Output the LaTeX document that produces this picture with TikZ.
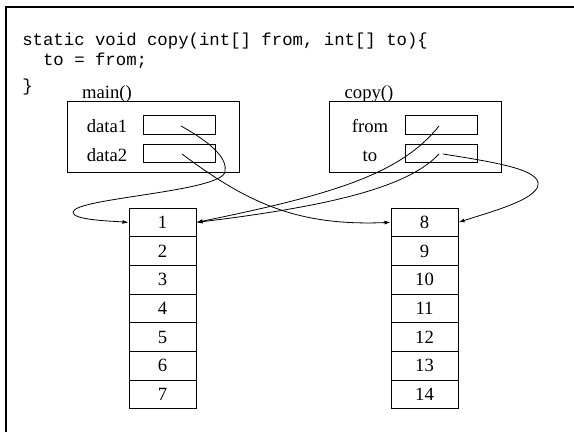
\documentclass[tikz,border=0pt]{standalone}
\usepackage{fontspec}
\setmainfont{Liberation Serif}
\setmonofont{Liberation Mono}
\usetikzlibrary{arrows.meta}

\tikzset{
  stackframe/.style={draw, line width=0.75pt, minimum width=129pt, minimum height=53.25pt, inner sep=0pt},
  slot/.style={draw, line width=0.75pt, minimum width=54pt, minimum height=13.9pt, inner sep=0pt},
  arrcell/.style={draw, line width=0.75pt, minimum width=50.25pt, minimum height=21.5pt, inner sep=0pt, font=\fontsize{14}{16}\selectfont},
  lbl/.style={anchor=base, inner sep=0pt, font=\fontsize{14}{16}\selectfont},
  code/.style={anchor=base west, inner sep=0pt, font=\ttfamily\fontsize{13}{15}\selectfont},
  pointer/.style={line width=0.6pt, -{Latex[length=4.5pt,width=3pt]}}
}

\begin{document}
\begin{tikzpicture}[x=0.75pt,y=0.75pt,yscale=-1,xscale=1]
\useasboundingbox (0,0) rectangle (574,432);

%Outer border
\draw [line width=1.5pt] (6,432) -- (6,7) -- (574,7) ;

% Code lines
\node [code] (line1) at (22,45) {static void copy(int[] from, int[] to)\{};
\node [code] (line2) at (42.8,65) {to = from;};
\node [code] (line3) at (22,91) {\}};

% Stack frames
\node [stackframe] (mainfr) at (153,136.5) {};
\node [lbl] (mainlbl) at (107,98) {main()};
\node [stackframe] (copyfr) at (415,136.5) {};
\node [lbl] (copylbl) at (369,98) {copy()};

% Variable slots
\node [slot] (data1) at (179,125) {};
\node [slot] (data2) at (179,153.5) {};
\node [slot] (slotfrom) at (441.5,125) {};
\node [slot] (slotto) at (441.5,153.5) {};
\node [lbl] (data1lbl) at (107,132) {data1};
\node [lbl] (data2lbl) at (107,161) {data2};
\node [lbl] (fromlbl) at (370,132) {from};
\node [lbl] (tolbl) at (370,161) {to};

% Arrays on the heap
\foreach \i in {1,...,7}{
  \pgfmathtruncatemacro{\j}{\i+7}
  \node [arrcell] (a\i) at (162.5,{193.65+28.7*\i}) {\i};
  \node [arrcell] (b\i) at (424.5,{193.65+28.7*\i}) {\j};
}

% Pointer start points
\coordinate (d1p) at (181,126);
\coordinate (d2p) at (182,154);
\coordinate (fromp) at (439,126);
\coordinate (top) at (439,154);
\coordinate (topb) at (443,154);

% References
\draw [pointer] (d1p) .. controls (210,142) and (228,158) .. (225,172) .. controls (220,192) and (75,198) .. (73,212) .. controls (72,220) and (110,221) .. (a1.west);
\draw [pointer] (d2p) .. controls (250,205) and (300,226) .. (b1.west);
\draw [pointer] (fromp) .. controls (400,175) and (330,195) .. (a1.east);
\draw [pointer] (top) .. controls (410,185) and (340,205) .. (a1.east);
\draw [pointer] (topb) .. controls (500,163) and (540,170) .. (538,185) .. controls (536,200) and (490,212) .. (b1.east);

\end{tikzpicture}
\end{document}
